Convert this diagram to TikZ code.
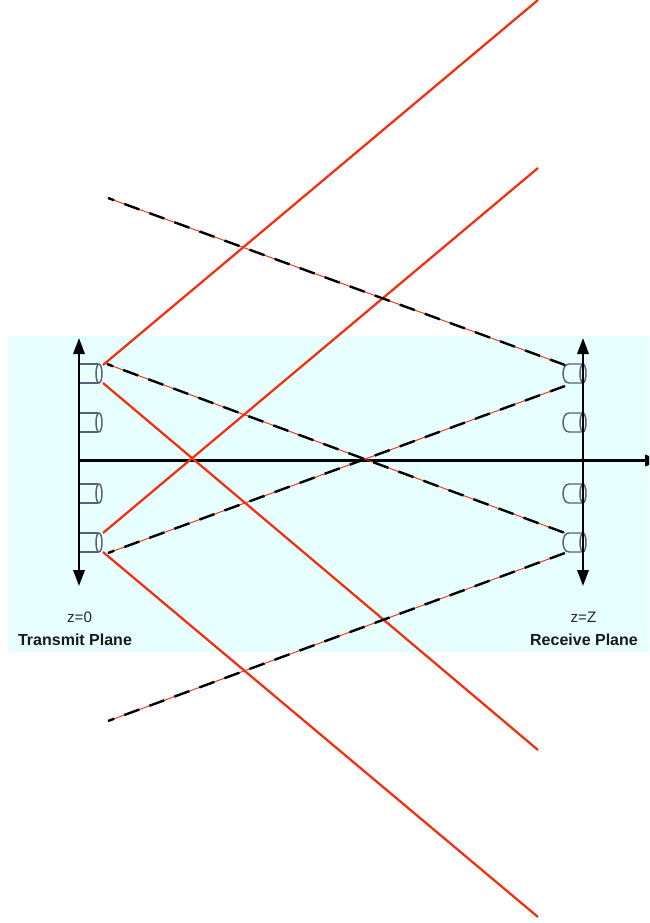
\documentclass[tikz,border=0pt]{standalone}
\usepackage{fontspec}
\setmainfont{Liberation Sans}
\usetikzlibrary{arrows.meta}
\definecolor{bgcyan}{HTML}{E8FFFF}
\definecolor{rayred}{HTML}{F03010}
\definecolor{cylgrey}{HTML}{586078}
\tikzset{
  px/.style={x=0.75pt,y=-0.75pt},
  axisline/.style={line width=1.8pt,black,{Triangle[length=12pt,width=8.5pt]}-{Triangle[length=12pt,width=8.5pt]}},
  axisone/.style={line width=1.8pt,black,-{Triangle[length=12pt,width=8.5pt]}},
  solidray/.style={rayred,line width=1.7pt},
  thinray/.style={rayred,line width=0.7pt},
  blackdash/.style={black,line width=1.8pt,dash pattern=on 12pt off 8pt,dash phase=7pt},
  cyl/.style={cylgrey,line width=1.1pt},
  lab/.style={font=\fontsize{11.4pt}{13pt}\selectfont,text=black!85,inner sep=0pt},
  boldlab/.style={font=\fontsize{12pt}{13pt}\selectfont\bfseries,text=black!90,inner sep=0pt}
}
\newcommand{\txcyl}[1]{%
  \draw[cyl] (79,#1-9.5) -- (98,#1-9.5) (79,#1+9.5) -- (98,#1+9.5);
  \draw[cyl] (99,#1) ellipse [x radius=3,y radius=9.5];
}
\newcommand{\rxcyl}[1]{%
  \draw[cyl] (583,#1-9.5) -- (569,#1-9.5) .. controls (561,#1-9.5) and (561,#1+9.5) .. (569,#1+9.5) -- (583,#1+9.5);
  \draw[cyl] (583,#1) ellipse [x radius=3,y radius=9.5];
}
\begin{document}
\begin{tikzpicture}[px]
\useasboundingbox (0,0) rectangle (649,923);
\clip (0,0) rectangle (649,923);
\fill[bgcyan] (8,336) rectangle (649,652);
% cylinders
\foreach \y in {373.5,422.5,493.5,542.5}{\txcyl{\y}\rxcyl{\y}}
% axes
\coordinate (ttop) at (79,338);
\coordinate (tbot) at (79,586);
\coordinate (rtop) at (583,338);
\coordinate (rbot) at (583,586);
\coordinate (ostart) at (79,460.5);
\coordinate (oend) at (661,460.5);
\draw[axisline] (ttop) -- (tbot);
\draw[axisline] (rtop) -- (rbot);
\draw[axisone] (ostart) -- (oend);
% solid rays
\coordinate (a1) at (103,365);  \coordinate (b1) at (538,0);
\coordinate (a2) at (103,383);  \coordinate (b2) at (538,750);
\coordinate (a3) at (103,533);  \coordinate (b3) at (538,168);
\coordinate (a4) at (103,552);  \coordinate (b4) at (538,917);
\draw[solidray] (a1) -- (b1);
\draw[solidray] (a2) -- (b2);
\draw[solidray] (a3) -- (b3);
\draw[solidray] (a4) -- (b4);
% dashed rays
\coordinate (c1) at (108,198);  \coordinate (d1) at (565,365);
\coordinate (c2) at (107,364);  \coordinate (d2) at (565,533);
\coordinate (c3) at (108,553);  \coordinate (d3) at (565,386);
\coordinate (c4) at (108,721);  \coordinate (d4) at (565,553);
\foreach \p/\q in {c1/d1,c2/d2,c3/d3,c4/d4}{
  \draw[thinray] (\p) -- (\q);
  \draw[blackdash] (\p) -- (\q);
}
% labels
\node[lab] (z0) at (79.5,617) {z=0};
\node[boldlab] (tp) at (75,640) {Transmit Plane};
\node[lab] (zz) at (583.5,617) {z=Z};
\node[boldlab] (rp) at (584,640) {Receive Plane};
\end{tikzpicture}
\end{document}
